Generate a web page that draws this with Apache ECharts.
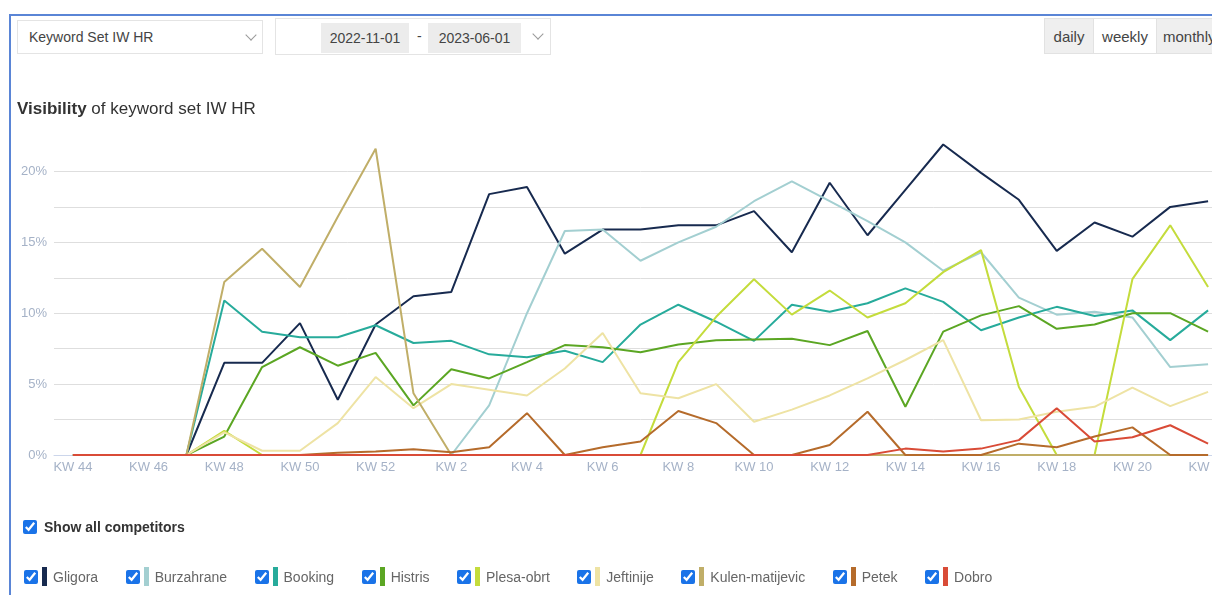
<!DOCTYPE html>
<html>
<head>
<meta charset="utf-8">
<script src="https://cdn.jsdelivr.net/npm/echarts@6/dist/echarts.min.js"></script>
<style>
  html, body { margin: 0; padding: 0; background: #fff; }
  body { width: 1212px; height: 595px; position: relative; overflow: hidden;
         font-family: "Liberation Sans", Arial, sans-serif; color: #444; }
  #main { position: absolute; left: 0; top: 0; width: 1250px; height: 595px; }
  .frame { position: absolute; left: 9px; top: 14px; width: 1240px; height: 640px;
           border-left: 2px solid #5a85d6; border-top: 2px solid #5a85d6; }
  .box { position: absolute; border: 1px solid #e4e4e4; background: #fff; box-sizing: border-box; }
  .chev { position: absolute; width: 7px; height: 7px; border-right: 1px solid #9a9a9a;
          border-bottom: 1px solid #9a9a9a; transform: rotate(45deg); }
  .field { position: absolute; top: 4px; height: 30px; line-height: 30px; background: #ececec;
           font-size: 14px; color: #444; text-align: center; }
  .btn { position: absolute; top: 18px; height: 36px; line-height: 36px; font-size: 15px;
         color: #444; text-align: center; background: #efefef; border: 1px solid #e2e2e2;
         box-sizing: border-box; }
  .title { position: absolute; left: 17px; top: 99px; font-size: 17px; color: #333; }
  .showall { position: absolute; left: 23px; top: 519px; font-size: 14px; font-weight: bold; color: #333;
             display: flex; align-items: center; }
  input[type=checkbox] { accent-color: #1a73e8; width: 14px; height: 14px; margin: 0; }
  .legend { position: absolute; left: 24px; top: 567px; display: flex; font-size: 14px; color: #666; }
  .item { display: flex; align-items: center; margin-right: 27.5px; }
  .bar { width: 5px; height: 19px; margin: 0 6px 0 4px; }
</style>
</head>
<body>
<div id="main"></div>
<div class="frame"></div>

<div class="box" style="left:17px;top:20px;width:246px;height:34px;">
  <span style="position:absolute;left:11px;top:8px;font-size:14px;color:#444;">Keyword Set IW HR</span>
  <span class="chev" style="left:229px;top:10px;"></span>
</div>
<div class="box" style="left:275px;top:18px;width:276px;height:37px;">
  <span class="field" style="left:45px;width:88px;">2022-11-01</span>
  <span style="position:absolute;left:141px;top:9px;font-size:14px;">-</span>
  <span class="field" style="left:152px;width:93px;">2023-06-01</span>
  <span class="chev" style="left:258px;top:11px;"></span>
</div>
<div class="btn" style="left:1044px;width:50px;">daily</div>
<div class="btn" style="left:1093px;width:64px;background:#fff;">weekly</div>
<div class="btn" style="left:1156px;width:70px;text-align:left;padding-left:6px;">monthly</div>

<div class="title"><b>Visibility</b> of keyword set IW HR</div>

<div class="showall"><input type="checkbox" checked><span style="margin-left:7px;">Show all competitors</span></div>
<div class="legend" id="legend"></div>

<script>
var categories = ['KW 44', 'KW 45', 'KW 46', 'KW 47', 'KW 48', 'KW 49', 'KW 50', 'KW 51', 'KW 52',
  'KW 1', 'KW 2', 'KW 3', 'KW 4', 'KW 5', 'KW 6', 'KW 7', 'KW 8', 'KW 9', 'KW 10', 'KW 11',
  'KW 12', 'KW 13', 'KW 14', 'KW 15', 'KW 16', 'KW 17', 'KW 18', 'KW 19', 'KW 20', 'KW 21', 'KW 22'];

var names = ['Gligora', 'Burzahrane', 'Booking', 'Histris', 'Plesa-obrt', 'Jeftinije',
  'Kulen-matijevic', 'Petek', 'Dobro'];

var gligora = [0, 0, 0, 0, 6.5, 6.5, 9.3, 3.9, 9.2, 11.2, 11.5, 18.4, 18.9, 14.2, 15.9, 15.9,
  16.2, 16.2, 17.2, 14.3, 19.2, 15.5, 18.7, 21.9, 19.9, 18.0, 14.4, 16.4, 15.4, 17.5, 17.9];
var burzahrane = [0, 0, 0, 0, 0, 0, 0, 0, 0, 0, 0, 3.5, 10.0, 15.8, 15.9, 13.7,
  15.0, 16.1, 17.9, 19.3, 17.9, 16.5, 15.0, 13.0, 14.3, 11.1, 9.9, 10.1, 9.7, 6.2, 6.4];
var booking = [0, 0, 0, 0, 10.9, 8.7, 8.3, 8.3, 9.15, 7.9, 8.05, 7.1, 6.9, 7.35, 6.55, 9.2,
  10.6, 9.4, 8.05, 10.6, 10.1, 10.7, 11.75, 10.8, 8.8, 9.7, 10.45, 9.8, 10.2, 8.1, 10.2];
var histris = [0, 0, 0, 0, 1.3, 6.2, 7.6, 6.3, 7.2, 3.5, 6.05, 5.4, 6.55, 7.75, 7.6, 7.25,
  7.8, 8.1, 8.15, 8.2, 7.75, 8.75, 3.4, 8.7, 9.85, 10.5, 8.9, 9.2, 10.0, 10.0, 8.7];
var plesaObrt = [0, 0, 0, 0, 1.7, 0, 0, 0, 0, 0, 0, 0, 0, 0, 0, 0,
  6.55, 9.75, 12.4, 9.9, 11.6, 9.7, 10.7, 12.9, 14.45, 4.8, 0, 0, 12.4, 16.2, 11.85];
var jeftinije = [0, 0, 0, 0, 1.6, 0.3, 0.3, 2.25, 5.5, 3.3, 5.0, 4.6, 4.2, 6.1, 8.6, 4.35,
  4.0, 5.0, 2.35, 3.2, 4.2, 5.4, 6.7, 8.1, 2.45, 2.5, 3.05, 3.4, 4.75, 3.45, 4.45];
var kulenMatijevic = [0, 0, 0, 0, 12.2, 14.55, 11.85, 16.8, 21.6, 4.35, 0, 0, 0, 0, 0, 0,
  0, 0, 0, 0, 0, 0, 0, 0, 0, 0, 0, 0, 0, 0, 0];
var petek = [0, 0, 0, 0, 0, 0, 0, 0.15, 0.25, 0.4, 0.2, 0.55, 2.95, 0, 0.55, 0.95,
  3.1, 2.25, 0, 0, 0.7, 3.05, 0, 0, 0, 0.8, 0.55, 1.3, 1.95, 0, 0];
var dobro = [0, 0, 0, 0, 0, 0, 0, 0, 0, 0, 0, 0, 0, 0, 0, 0,
  0, 0, 0, 0, 0, 0, 0.45, 0.25, 0.45, 1.05, 3.3, 0.95, 1.25, 2.1, 0.8];

var values = [gligora, burzahrane, booking, histris, plesaObrt, jeftinije, kulenMatijevic, petek, dobro];
var colors = ['#172a4f', '#a3cfd1', '#27ab9b', '#5ba623', '#c4dc3c', '#eee3a4', '#c0ae68', '#b56b2b', '#d94b37'];

// legend is plain html: checkbox + colour bar + name
var legendEl = document.getElementById('legend');
names.forEach(function (n, i) {
  var it = document.createElement('div');
  it.className = 'item';
  it.innerHTML = '<input type="checkbox" checked><span class="bar" style="background:' + colors[i] +
    '"></span><span>' + n + '</span>';
  legendEl.appendChild(it);
});

var chartDom = document.getElementById('main');
var myChart = echarts.init(chartDom);
var option;

option = {
  animation: false,
  color: colors,
  textStyle: { fontFamily: 'Liberation Sans, Arial, sans-serif' },
  grid: { left: 54, top: 136, width: 1173, height: 319 },
  xAxis: {
    type: 'category',
    data: categories,
    boundaryGap: true,
    axisTick: { show: false },
    axisLine: { lineStyle: { color: '#ccd6eb' } },
    axisLabel: { interval: 1, color: '#a5b2c7', fontSize: 13, margin: 6 }
  },
  yAxis: {
    type: 'value',
    min: 0,
    max: 22.5,
    interval: 2.5,
    axisLine: { show: false },
    axisTick: { show: false },
    axisLabel: {
      color: '#a5b2c7',
      fontSize: 13,
      margin: 7,
      showMaxLabel: false,
      formatter: function (v) { return v % 5 === 0 ? v + '%' : ''; }
    },
    splitLine: { showMaxLine: false, lineStyle: { color: '#dedede', width: 1 } }
  },
  series: names.map(function (n, i) {
    return {
      name: n,
      type: 'line',
      data: values[i],
      symbol: 'none',
      lineStyle: { width: 2 }
    };
  })
};

option && myChart.setOption(option);
</script>
</body>
</html>
